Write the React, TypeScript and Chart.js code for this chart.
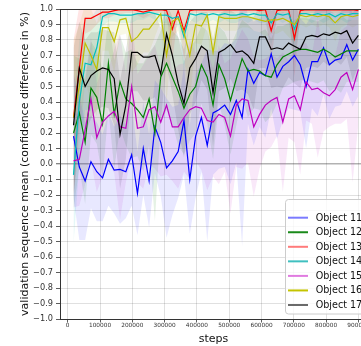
import React, { useEffect, useRef } from 'react';
import { Chart, registerables } from 'chart.js';

Chart.register(...registerables);

const FONT = '"DejaVu Sans", sans-serif';

const steps = [
  18000, 36000, 54000, 72000, 90000, 108000, 126000, 144000, 162000, 180000,
  198000, 216000, 234000, 252000, 270000, 288000, 306000, 324000, 342000, 360000,
  378000, 396000, 414000, 432000, 450000, 468000, 486000, 504000, 522000, 540000,
  558000, 576000, 594000, 612000, 630000, 648000, 666000, 684000, 702000, 720000,
  738000, 756000, 774000, 792000, 810000, 828000, 846000, 864000, 882000, 900000,
];

const xTickValues = [0, 100000, 200000, 300000, 400000, 500000, 600000, 700000, 800000, 900000];

const seriesNames = ['Object 11', 'Object 12', 'Object 13', 'Object 14', 'Object 15', 'Object 16', 'Object 17'];

const object11 = [
  0.18, -0.02, -0.11, 0.015, -0.05, -0.09, 0.03, -0.04, -0.035, -0.05,
  0.06, -0.19, 0.1, -0.11, 0.24, 0.14, -0.025, 0.02, 0.08, 0.28,
  -0.1, 0.18, 0.3, 0.12, 0.33, 0.35, 0.38, 0.32, 0.41, 0.3,
  0.61, 0.52, 0.59, 0.57, 0.71, 0.56, 0.63, 0.66, 0.7, 0.64,
  0.5, 0.66, 0.66, 0.75, 0.64, 0.67, 0.68, 0.77, 0.67, 0.74,
];
const object11Std = [
  0.4, 0.47, 0.38, 0.3, 0.32, 0.28, 0.3, 0.28, 0.35, 0.3,
  0.33, 0.27, 0.3, 0.3, 0.3, 0.35, 0.45, 0.35, 0.3, 0.35,
  0.35, 0.4, 0.35, 0.62, 0.4, 0.38, 0.4, 0.45, 0.4, 0.83,
  0.35, 0.4, 0.35, 0.4, 0.35, 0.4, 0.35, 0.3, 0.35, 0.3,
  0.4, 0.3, 0.35, 0.3, 0.35, 0.3, 0.3, 0.3, 0.3, 0.3,
];

const object12 = [
  0.2, 0.33, 0.14, 0.49, 0.43, 0.26, 0.65, 0.32, 0.53, 0.42,
  0.39, 0.35, 0.3, 0.42, 0.2, 0.56, 0.65, 0.56, 0.47, 0.36,
  0.45, 0.5, 0.64, 0.56, 0.38, 0.64, 0.55, 0.41, 0.55, 0.68,
  0.6, 0.61, 0.6, 0.57, 0.56, 0.64, 0.69, 0.71, 0.73, 0.74,
  0.74, 0.73, 0.72, 0.74, 0.72, 0.69, 0.71, 0.73, 0.73, 0.73,
];
const object12Std = [
  0.5, 0.35, 0.4, 0.3, 0.3, 0.35, 0.3, 0.35, 0.3, 0.3,
  0.35, 0.3, 0.35, 0.3, 0.57, 0.3, 0.3, 0.3, 0.35, 0.3,
  0.3, 0.3, 0.25, 0.3, 0.35, 0.25, 0.3, 0.35, 0.3, 0.25,
  0.3, 0.25, 0.25, 0.3, 0.25, 0.25, 0.2, 0.2, 0.2, 0.2,
  0.2, 0.2, 0.2, 0.2, 0.25, 0.2, 0.25, 0.2, 0.2, 0.2,
];

const object13 = [
  0.3, 0.62, 0.94, 0.94, 0.96, 0.98, 0.98, 0.99, 0.995, 0.995,
  0.995, 0.99, 0.98, 0.99, 0.995, 0.995, 0.99, 0.87, 0.99, 0.86,
  0.99, 0.995, 0.995, 0.995, 0.995, 0.995, 0.995, 0.995, 0.995, 0.995,
  0.995, 0.995, 0.99, 0.995, 0.86, 0.99, 0.995, 0.995, 0.81, 0.99,
  0.995, 0.995, 0.995, 0.995, 0.995, 0.995, 0.995, 0.995, 0.995, 0.99,
];
const object13Std = [
  0.5, 0.4, 0.1, 0.08, 0.06, 0.04, 0.04, 0.03, 0.03, 0.02,
  0.02, 0.03, 0.04, 0.03, 0.02, 0.02, 0.03, 0.2, 0.03, 0.2,
  0.03, 0.02, 0.02, 0.02, 0.02, 0.02, 0.02, 0.02, 0.02, 0.02,
  0.02, 0.02, 0.03, 0.02, 0.2, 0.03, 0.02, 0.02, 0.25, 0.03,
  0.02, 0.02, 0.02, 0.02, 0.02, 0.02, 0.02, 0.02, 0.02, 0.03,
];

const object14 = [
  -0.07, 0.4, 0.65, 0.64, 0.75, 0.95, 0.97, 0.97, 0.96, 0.96,
  0.96, 0.97, 0.97, 0.98, 0.97, 0.96, 0.96, 0.94, 0.95, 0.82,
  0.97, 0.96, 0.97, 0.96, 0.97, 0.96, 0.97, 0.96, 0.96, 0.97,
  0.96, 0.97, 0.96, 0.96, 0.91, 0.97, 0.96, 0.97, 0.87, 0.97,
  0.97, 0.96, 0.97, 0.96, 0.97, 0.95, 0.97, 0.96, 0.97, 0.97,
];
const object14Std = [
  0.45, 0.4, 0.3, 0.3, 0.25, 0.06, 0.05, 0.05, 0.05, 0.05,
  0.05, 0.04, 0.04, 0.03, 0.04, 0.05, 0.05, 0.08, 0.06, 0.22,
  0.04, 0.05, 0.04, 0.05, 0.04, 0.05, 0.04, 0.05, 0.05, 0.04,
  0.05, 0.04, 0.05, 0.05, 0.15, 0.04, 0.05, 0.04, 0.2, 0.04,
  0.04, 0.05, 0.04, 0.05, 0.04, 0.06, 0.04, 0.05, 0.04, 0.04,
];

const object15 = [
  0.02, 0.03, 0.22, 0.42, 0.17, 0.27, 0.31, 0.34, 0.24, 0.23,
  0.5, 0.23, 0.24, 0.35, 0.37, 0.27, 0.38, 0.24, 0.24, 0.3,
  0.35, 0.37, 0.36, 0.28, 0.27, 0.32, 0.3, 0.18, 0.38, 0.42,
  0.41, 0.24, 0.32, 0.38, 0.41, 0.43, 0.27, 0.42, 0.44, 0.35,
  0.53, 0.48, 0.49, 0.46, 0.44, 0.48, 0.56, 0.59, 0.48, 0.61,
];
const object15Std = [
  0.3, 0.3, 0.35, 0.4, 0.35, 0.35, 0.3, 0.4, 0.6, 0.35,
  0.45, 0.35, 0.4, 0.35, 0.4, 0.35, 0.45, 0.35, 0.4, 0.35,
  0.45, 0.35, 0.4, 0.45, 0.35, 0.45, 0.35, 0.5, 0.4, 0.45,
  0.4, 0.45, 0.35, 0.3, 0.3, 0.25, 0.45, 0.25, 0.3, 0.42,
  0.25, 0.22, 0.45, 0.25, 0.2, 0.22, 0.3, 0.3, 0.6, 0.35,
];

const object16 = [
  0.3, 0.5, 0.78, 0.7, 0.61, 0.88, 0.88, 0.79, 0.93, 0.94,
  0.79, 0.82, 0.87, 0.87, 0.92, 0.97, 0.7, 0.92, 0.94, 0.85,
  0.7, 0.9, 0.89, 0.96, 0.72, 0.95, 0.94, 0.94, 0.94, 0.95,
  0.95, 0.94, 0.93, 0.92, 0.93, 0.93, 0.94, 0.92, 0.9, 0.96,
  0.95, 0.96, 0.95, 0.96, 0.95, 0.91, 0.95, 0.96, 0.95, 0.96,
];
const object16Std = [
  0.5, 0.4, 0.25, 0.3, 0.3, 0.15, 0.15, 0.2, 0.1, 0.1,
  0.2, 0.18, 0.15, 0.15, 0.1, 0.05, 0.3, 0.1, 0.08, 0.15,
  0.3, 0.12, 0.12, 0.06, 0.28, 0.06, 0.08, 0.08, 0.08, 0.07,
  0.07, 0.08, 0.08, 0.1, 0.09, 0.09, 0.08, 0.1, 0.12, 0.06,
  0.07, 0.06, 0.07, 0.06, 0.07, 0.12, 0.07, 0.06, 0.07, 0.06,
];

const object17 = [
  0.25, 0.62, 0.5, 0.57, 0.6, 0.62, 0.61, 0.55, 0.19, 0.38,
  0.72, 0.72, 0.69, 0.69, 0.7, 0.58, 0.84, 0.7, 0.52, 0.39,
  0.62, 0.68, 0.76, 0.73, 0.46, 0.72, 0.74, 0.77, 0.72, 0.73,
  0.7, 0.65, 0.82, 0.82, 0.74, 0.75, 0.74, 0.78, 0.76, 0.74,
  0.82, 0.83, 0.82, 0.84, 0.83, 0.85, 0.84, 0.86, 0.78, 0.83,
];
const object17Std = [
  0.5, 0.3, 0.3, 0.28, 0.25, 0.25, 0.25, 0.3, 0.35, 0.35,
  0.25, 0.25, 0.28, 0.28, 0.27, 0.3, 0.2, 0.25, 0.3, 0.35,
  0.3, 0.28, 0.22, 0.25, 0.35, 0.25, 0.25, 0.22, 0.25, 0.25,
  0.25, 0.3, 0.2, 0.2, 0.25, 0.25, 0.25, 0.22, 0.24, 0.25,
  0.2, 0.2, 0.2, 0.18, 0.2, 0.18, 0.2, 0.17, 0.24, 0.2,
];

const lineColors = ['#0000ff', '#008000', '#ff0000', '#00bfbf', '#bf00bf', '#bfbf00', '#000000'];
const fillColors = [
  'rgba(0,0,255,0.09)', 'rgba(0,128,0,0.1)', 'rgba(255,0,0,0.1)', 'rgba(0,191,191,0.1)',
  'rgba(191,0,191,0.09)', 'rgba(191,191,0,0.1)', 'rgba(0,0,0,0.1)',
];
const legendColors = ['#7b7bff', '#1a8a1a', '#ff7b7b', '#40c0c0', '#e07be0', '#c4c400', '#6a6a6a'];

const X_MIN = -23840;
const X_MAX = 923500;

export default function App() {
  const ref = useRef<HTMLCanvasElement>(null);

  useEffect(() => {
    if (!ref.current) return;
    const means = [object11, object12, object13, object14, object15, object16, object17];
    const stds = [object11Std, object12Std, object13Std, object14Std, object15Std, object16Std, object17Std];
    const datasets: any[] = [];
    means.forEach((m, i) => {
      datasets.push({
        label: seriesNames[i] + ' upper',
        data: m.map((v, j) => ({ x: steps[j], y: v + stds[i][j] })),
        borderWidth: 0, pointRadius: 0, fill: '+1', backgroundColor: fillColors[i], order: 50,
      });
      datasets.push({
        label: seriesNames[i] + ' lower',
        data: m.map((v, j) => ({ x: steps[j], y: v - stds[i][j] })),
        borderWidth: 0, pointRadius: 0, fill: false, order: 50,
      });
      datasets.push({
        label: seriesNames[i],
        data: m.map((v, j) => ({ x: steps[j], y: v })),
        borderColor: lineColors[i], borderWidth: 1.2, pointRadius: 0, fill: false, tension: 0,
        order: 6 - i,
      });
    });

    const gridColor = (c: any) =>
      c.tick && Math.abs(c.tick.value) < 1e-9 && c.scale.axis === 'y' ? 'rgba(0,0,0,0.3)' : 'rgba(0,0,0,0.12)';
    const gridWidth = (c: any) =>
      c.tick && Math.abs(c.tick.value) < 1e-9 && c.scale.axis === 'y' ? 1.5 : 1;

    const decor = {
      id: 'decor',
      afterDatasetsDraw(chart: any) {
        const { ctx, chartArea } = chart;
        ctx.save();
        ctx.strokeStyle = '#333';
        ctx.lineWidth = 1;
        ctx.beginPath();
        ctx.moveTo(chartArea.left, chartArea.top + 0.5);
        ctx.lineTo(chartArea.right, chartArea.top + 0.5);
        ctx.moveTo(chartArea.right - 0.5, chartArea.top);
        ctx.lineTo(chartArea.right - 0.5, chartArea.bottom);
        ctx.stroke();

        // legend
        const bx = 285.5, by = 199.5, bw = 90, bh = 114.5, r = 3;
        ctx.beginPath();
        ctx.moveTo(bx + r, by);
        ctx.lineTo(bx + bw - r, by);
        ctx.arcTo(bx + bw, by, bx + bw, by + r, r);
        ctx.lineTo(bx + bw, by + bh - r);
        ctx.arcTo(bx + bw, by + bh, bx + bw - r, by + bh, r);
        ctx.lineTo(bx + r, by + bh);
        ctx.arcTo(bx, by + bh, bx, by + bh - r, r);
        ctx.lineTo(bx, by + r);
        ctx.arcTo(bx, by, bx + r, by, r);
        ctx.closePath();
        ctx.fillStyle = 'rgba(255,255,255,0.8)';
        ctx.fill();
        ctx.strokeStyle = '#cccccc';
        ctx.lineWidth = 1;
        ctx.stroke();
        ctx.font = '9.6px ' + FONT;
        ctx.textBaseline = 'middle';
        ctx.textAlign = 'left';
        seriesNames.forEach((name, i) => {
          const y = 217.7 + i * 14.55;
          ctx.strokeStyle = legendColors[i];
          ctx.lineWidth = 2;
          ctx.beginPath();
          ctx.moveTo(288, y);
          ctx.lineTo(308, y);
          ctx.stroke();
          ctx.fillStyle = '#111';
          ctx.fillText(name, 315.7, y + 0.5);
        });

        // axis titles
        ctx.fillStyle = '#111';
        ctx.font = '11px ' + FONT;
        ctx.textAlign = 'center';
        ctx.textBaseline = 'alphabetic';
        ctx.fillText('steps', 213.5, 342);
        ctx.save();
        ctx.translate(27.5, (chartArea.top + chartArea.bottom) / 2);
        ctx.rotate(-Math.PI / 2);
        ctx.fillText('validation sequence mean (confidence difference in %)', 0, 0);
        ctx.restore();
        ctx.restore();
      },
    };

    const chart = new Chart(ref.current, {
      type: 'line',
      data: { datasets },
      options: {
        responsive: false,
        animation: false,
        devicePixelRatio: 1,
        layout: { padding: { top: 9, right: 34, bottom: 0, left: 0 } },
        plugins: {
          legend: { display: false },
          tooltip: { enabled: false },
          filler: { drawTime: 'beforeDatasetsDraw', propagate: false },
        } as any,
        scales: {
          x: {
            type: 'linear',
            min: X_MIN,
            max: X_MAX,
            afterFit: (s: any) => { s.height = 27; },
            afterBuildTicks: (s: any) => { s.ticks = xTickValues.map((v) => ({ value: v })); },
            ticks: {
              autoSkip: false, maxRotation: 0, minRotation: 0,
              padding: 0, color: '#333', font: { family: FONT, size: 5.8 },
              callback: (v: any) => String(v),
            },
            grid: { color: gridColor, lineWidth: gridWidth, tickLength: 3.5, tickColor: '#333', tickWidth: 0.8 } as any,
            border: { color: '#333', width: 1 },
          },
          y: {
            type: 'linear',
            min: -1,
            max: 1,
            afterFit: (s: any) => { s.width = 60; },
            ticks: {
              stepSize: 0.1, padding: 3, color: '#333', font: { family: FONT, size: 8.2 },
              maxTicksLimit: 40,
              callback: (v: any) => {
                const n = Number(v);
                if (Math.abs(n) < 1e-9) return '0.0';
                return n.toFixed(1).replace('-', '\u2212');
              },
            },
            grid: { color: gridColor, lineWidth: gridWidth, tickLength: 4, tickColor: '#333', tickWidth: 0.8 } as any,
            border: { color: '#333', width: 1 },
          },
        },
      },
      plugins: [decor],
    });
    return () => chart.destroy();
  }, []);

  return (
    <div style={{ position: 'absolute', left: 0, top: 0, width: 361, height: 346, overflow: 'hidden', background: '#fff' }}>
      <canvas ref={ref} width={400} height={346} style={{ display: 'block' }} />
    </div>
  );
}
